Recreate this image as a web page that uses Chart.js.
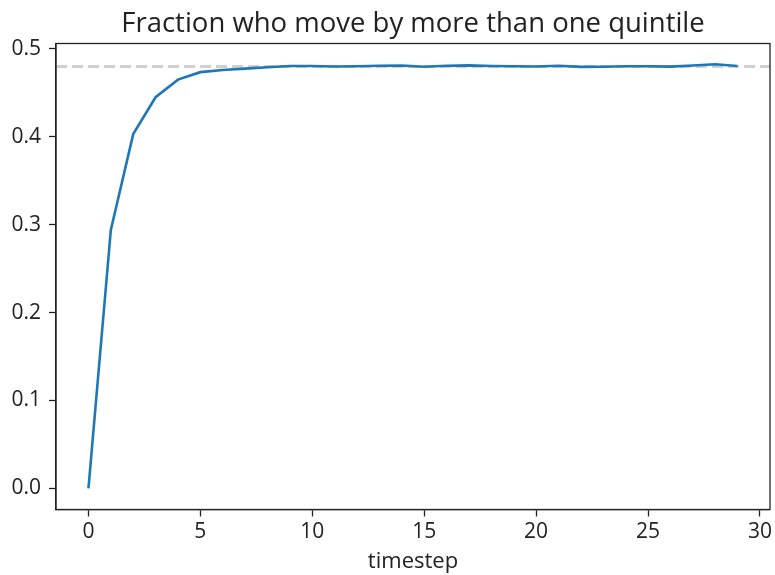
<!DOCTYPE html>
<html>
<head>
<meta charset="utf-8">
<script src="https://cdn.jsdelivr.net/npm/chart.js@4/dist/chart.umd.min.js"></script>
<style>
  body { margin: 0; background: #fff; }
  canvas { display: block; }
</style>
</head>
<body>
<canvas id="chart" width="775" height="575"></canvas>
<script>
'use strict';

// data
var timesteps = [0, 1, 2, 3, 4, 5, 6, 7, 8, 9, 10, 11, 12, 13, 14,
  15, 16, 17, 18, 19, 20, 21, 22, 23, 24, 25, 26, 27, 28, 29];
var fraction = [0.0, 0.294, 0.403, 0.445, 0.465, 0.4735, 0.476, 0.4775, 0.479, 0.4805,
  0.4805, 0.480, 0.4802, 0.4807, 0.481, 0.4797, 0.4808, 0.4812, 0.4805, 0.4803,
  0.480, 0.4808, 0.4795, 0.4797, 0.4802, 0.4802, 0.4798, 0.481, 0.4825, 0.4805];
var expected = 0.48;
var xTicks = [0, 5, 10, 15, 20, 25, 30];
var yTicks = [0.0, 0.1, 0.2, 0.3, 0.4, 0.5];
var titleText = 'Fraction who move by more than one quintile';
var xLabel = 'timestep';

var FONT = 'Open Sans';

var points = [];
for (var i = 0; i < timesteps.length; i++) {
  points.push({ x: timesteps[i], y: fraction[i] });
}

// dashed reference line, frame and title
var extras = {
  id: 'extras',
  beforeDatasetsDraw: function (chart) {
    var c = chart.ctx, a = chart.chartArea;
    var y = chart.scales.y.getPixelForValue(expected);
    c.save();
    c.strokeStyle = 'rgba(200,200,200,0.85)';
    c.lineWidth = 3;
    c.setLineDash([11, 5]);
    c.beginPath();
    c.moveTo(a.left, y);
    c.lineTo(a.right, y);
    c.stroke();
    c.restore();
  },
  afterDraw: function (chart) {
    var c = chart.ctx, a = chart.chartArea;
    c.save();
    c.strokeStyle = '#222';
    c.lineWidth = 1.3;
    c.strokeRect(a.left, a.top, a.right - a.left, a.bottom - a.top);
    c.fillStyle = '#222';
    c.font = '27.5px "' + FONT + '"';
    c.textAlign = 'center';
    c.textBaseline = 'alphabetic';
    c.fillText(titleText, (a.left + a.right) / 2, 32);
    c.restore();
  }
};

var ctx = document.getElementById('chart').getContext('2d');

var chart = new Chart(ctx, {
  type: 'line',
  data: {
    datasets: [{
      data: points,
      borderColor: '#1f77b4',
      borderWidth: 2.6,
      pointRadius: 0,
      tension: 0,
      fill: false
    }]
  },
  options: {
    responsive: false,
    animation: false,
    devicePixelRatio: 1,
    layout: { padding: { top: 43.5, right: 5, left: 0, bottom: 0 } },
    plugins: {
      legend: { display: false },
      tooltip: { enabled: false },
      title: { display: false }
    },
    scales: {
      x: {
        type: 'linear',
        min: -1.45,
        max: 30.45,
        afterBuildTicks: function (scale) {
          scale.ticks = xTicks.map(function (v) { return { value: v }; });
        },
        afterFit: function (scale) { scale.height = 65.5; },
        border: { display: true, color: '#222', width: 1.3 },
        grid: { display: true, drawOnChartArea: false, drawTicks: true, tickLength: 7, tickColor: '#222', tickWidth: 1.3 },
        ticks: {
          color: '#222',
          padding: 3,
          maxRotation: 0,
          font: { family: FONT, size: 21 },
          callback: function (v) { return String(v); }
        },
        title: {
          display: true,
          text: xLabel,
          color: '#222',
          padding: { top: 0, bottom: 0 },
          font: { family: FONT, size: 22 }
        }
      },
      y: {
        type: 'linear',
        min: -0.0241,
        max: 0.5061,
        afterBuildTicks: function (scale) {
          scale.ticks = yTicks.map(function (v) { return { value: v }; });
        },
        afterFit: function (scale) { scale.width = 56; },
        border: { display: true, color: '#222', width: 1.3 },
        grid: { display: true, drawOnChartArea: false, drawTicks: true, tickLength: 7, tickColor: '#222', tickWidth: 1.3 },
        ticks: {
          color: '#222',
          padding: 8,
          font: { family: FONT, size: 21 },
          callback: function (v) { return Number(v).toFixed(1); }
        }
      }
    }
  },
  plugins: [extras]
});
</script>
</body>
</html>
